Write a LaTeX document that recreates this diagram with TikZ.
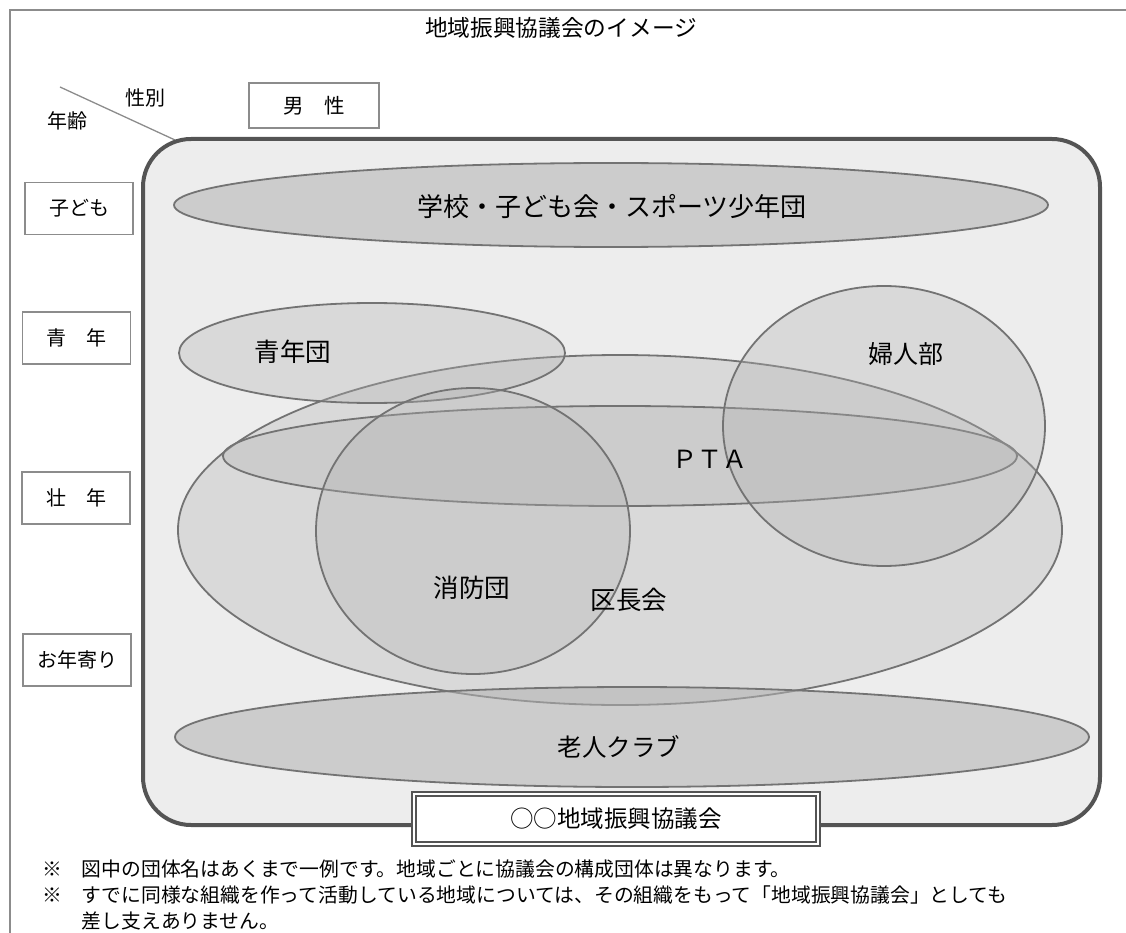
\documentclass[tikz,border=0pt]{standalone}
\usepackage{fontspec}
\setmainfont{Noto Sans CJK JP}
\usetikzlibrary{shapes.geometric}
\definecolor{framefill}{gray}{0.93}
\definecolor{framedraw}{gray}{0.33}
\definecolor{ellfill}{gray}{0.70}
\definecolor{elldraw}{gray}{0.45}
\definecolor{boxdraw}{gray}{0.55}
\tikzset{
  fs/.style={font=\fontsize{#1}{#1}\selectfont},
  txt/.style={inner sep=0pt, text=black},
  group/.style={ellipse, draw=elldraw, line width=1.8pt, fill=ellfill, fill opacity=0.33, inner sep=0pt},
  band/.style={group, fill opacity=0.55},
  agebox/.style={draw=boxdraw, line width=1.3pt, fill=white, inner sep=0pt, minimum width=108pt, minimum height=52pt, fs=20},
  noteline/.style={txt, anchor=west, fs=19.8},
}
\begin{document}
\begin{tikzpicture}[x=1pt,y=-1pt]
\useasboundingbox (0,0) rectangle (1126,933);
% outer page frame (top and left only)
\coordinate (pTL) at (10,10);
\coordinate (pTR) at (1126,10);
\coordinate (pBL) at (10,933);
\draw[boxdraw, line width=1.3pt] (pTR) -- (pTL) -- (pBL);
% title
\node[txt, fs=22.7] (title) at (561,28) {地域振興協議会のイメージ};
% header
\coordinate (diagA) at (60,87);
\coordinate (diagB) at (175,140);
\draw[boxdraw, line width=1.3pt] (diagA) -- (diagB);
\node[txt, fs=20] (sex) at (145,98) {性別};
\node[txt, fs=20] (age) at (67,121) {年齢};
\node[agebox, minimum width=130pt, minimum height=45pt, fs=20.5] (male) at (314,105.5) {男　性};
% age boxes
\node[agebox] (child) at (79,208.5) {子ども};
\node[agebox] (youth) at (76.5,338) {青　年};
\node[agebox] (adult) at (76,498) {壮　年};
\node[agebox] (elder) at (77,660) {お年寄り};
% main rounded frame
\node[draw=framedraw, line width=4pt, fill=framefill, rounded corners=48pt,
      minimum width=957pt, minimum height=686pt, inner sep=0pt] (frame) at (621.5,482) {};
% groups
\node[group, minimum width=884pt, minimum height=350pt] (kuchou) at (620,530) {};
\node[group, minimum width=386pt, minimum height=100pt] (seinen) at (372,353) {};
\node[group, minimum width=794pt, minimum height=100pt] (pta) at (620,456) {};
\node[group, minimum width=314pt, minimum height=286pt] (shobo) at (473,531) {};
\node[group, minimum width=322pt, minimum height=280pt] (fujin) at (884,426) {};
\node[band, minimum width=874pt, minimum height=84pt] (school) at (611,205) {};
\node[band, minimum width=914pt, minimum height=100pt] (rojin) at (632,737) {};
% group labels
\node[txt, fs=26] (tschool) at (612,207) {学校・子ども会・スポーツ少年団};
\node[txt, fs=25.5] (tseinen) at (293,352) {青年団};
\node[txt, fs=25] (tfujin) at (906,354) {婦人部};
\node[txt, fs=25] (tpta) at (710,459) {ＰＴＡ};
\node[txt, fs=25.5] (tshobo) at (472,588) {消防団};
\node[txt, fs=25.5] (tkuchou) at (629,600) {区長会};
\node[txt, fs=24.5] (trojin) at (619,747) {老人クラブ};
% council box
\node[draw=framedraw, line width=1.3pt, double=white, double distance=2.6pt, fill=white,
      minimum width=404pt, minimum height=50pt, inner sep=0pt, fs=23.5] (council) at (616,819) {○○地域振興協議会};
% notes
\node[noteline] (n1) at (42,869) {※　図中の団体名はあくまで一例です。地域ごとに協議会の構成団体は異なります。};
\node[noteline] (n2) at (42,895) {※　すでに同様な組織を作って活動している地域については、その組織をもって「地域振興協議会」としても};
\node[noteline] (n3) at (81.6,921) {差し支えありません。};
\end{tikzpicture}
\end{document}
